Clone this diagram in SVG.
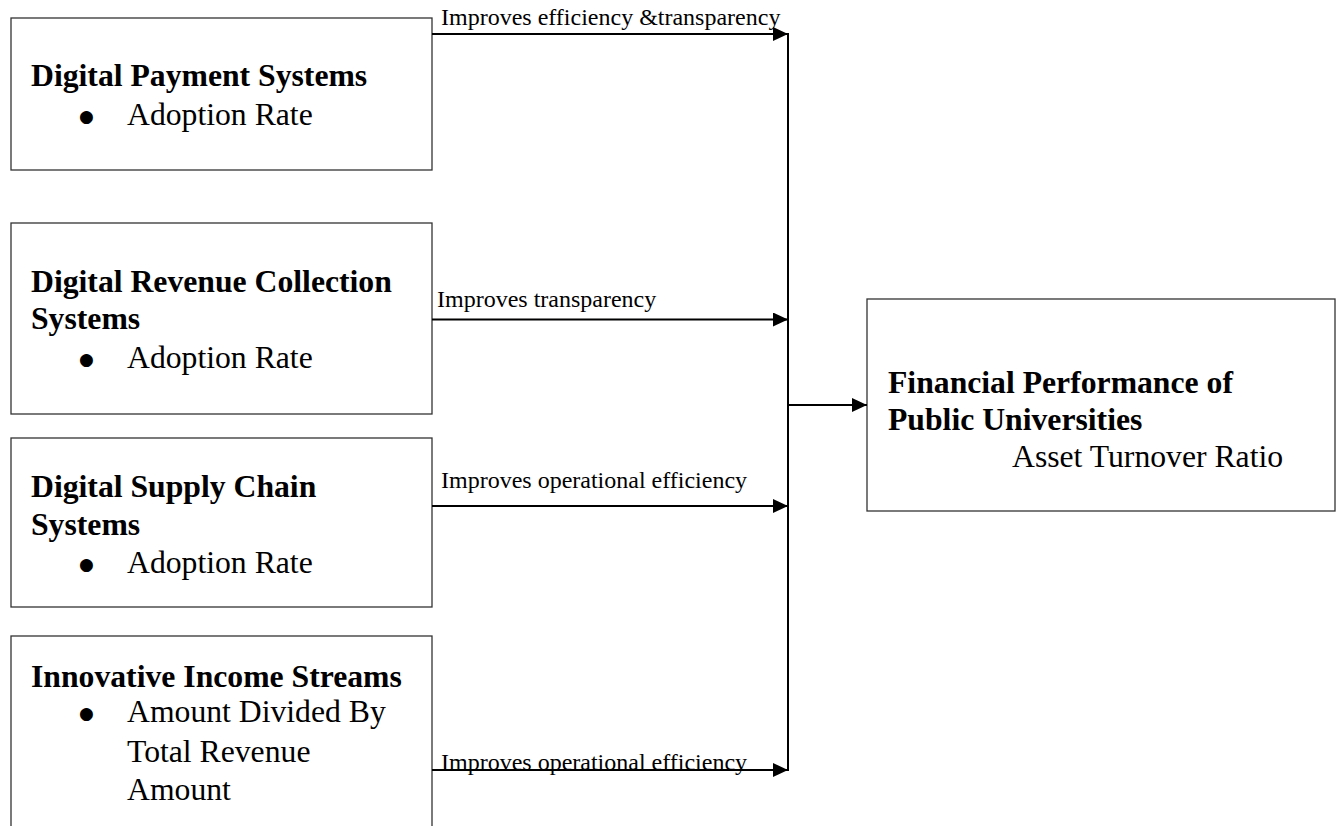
<svg xmlns="http://www.w3.org/2000/svg" width="1342" height="826" viewBox="0 0 1342 826">
<style>
.box{fill:#fff;stroke:#333;stroke-width:1.3}
.t{font-family:"Liberation Serif","Times New Roman",serif;font-size:31.7px;fill:#000}
.b{font-weight:bold}
.bul{font-family:"DejaVu Sans",sans-serif;font-size:17px;fill:#000}
.lbl{font-family:"Liberation Serif","Times New Roman",serif;font-size:24px;fill:#000}
.ln{stroke:#000;stroke-width:2;fill:none}
</style>
<defs>
<marker id="ah" markerWidth="15" markerHeight="14" refX="15" refY="7" orient="auto" markerUnits="userSpaceOnUse">
<path d="M0,0 L15,7 L0,14 Z" fill="#000"/>
</marker>
</defs>
<rect width="1342" height="826" fill="#fff"/>
<g id="node-payment">
<rect class="box" x="11" y="18" width="421" height="152"/>
<text class="t b" x="31" y="86">Digital Payment Systems</text>
<text class="bul" x="79" y="122">●</text>
<text class="t" x="127" y="125">Adoption Rate</text>
</g>
<g id="node-revenue">
<rect class="box" x="11" y="223" width="421" height="191"/>
<text class="t b" x="31" y="292">Digital Revenue Collection</text>
<text class="t b" x="31" y="329">Systems</text>
<text class="bul" x="79" y="365">●</text>
<text class="t" x="127" y="368">Adoption Rate</text>
</g>
<g id="node-supply">
<rect class="box" x="11" y="438" width="421" height="169"/>
<text class="t b" x="31" y="497">Digital Supply Chain</text>
<text class="t b" x="31" y="535">Systems</text>
<text class="bul" x="79" y="570">●</text>
<text class="t" x="127" y="573">Adoption Rate</text>
</g>
<g id="node-income">
<rect class="box" x="11" y="636" width="421" height="220"/>
<text class="t b" x="31" y="687">Innovative Income Streams</text>
<text class="bul" x="79" y="719">●</text>
<text class="t" x="127" y="722">Amount Divided By</text>
<text class="t" x="127" y="762">Total Revenue</text>
<text class="t" x="127" y="800">Amount</text>
</g>
<g id="node-financial">
<rect class="box" x="867" y="299" width="468" height="212"/>
<text class="t b" x="888" y="393">Financial Performance of</text>
<text class="t b" x="888" y="430">Public Universities</text>
<text class="t" x="1012" y="467">Asset Turnover Ratio</text>
</g>
<g id="connectors">
<line class="ln" x1="788" y1="33" x2="788" y2="771"/>
<line class="ln" x1="432" y1="34" x2="788" y2="34" marker-end="url(#ah)"/>
<line class="ln" x1="432" y1="319.5" x2="788" y2="319.5" marker-end="url(#ah)"/>
<line class="ln" x1="432" y1="506" x2="788" y2="506" marker-end="url(#ah)"/>
<line class="ln" x1="432" y1="770" x2="788" y2="770" marker-end="url(#ah)"/>
<line class="ln" x1="788" y1="405" x2="867" y2="405" marker-end="url(#ah)"/>
<text class="lbl" x="441" y="25">Improves efficiency &amp;transparency</text>
<text class="lbl" x="437" y="307">Improves transparency</text>
<text class="lbl" x="441" y="488">Improves operational efficiency</text>
<text class="lbl" x="441" y="770">Improves operational efficiency</text>
</g>
</svg>
